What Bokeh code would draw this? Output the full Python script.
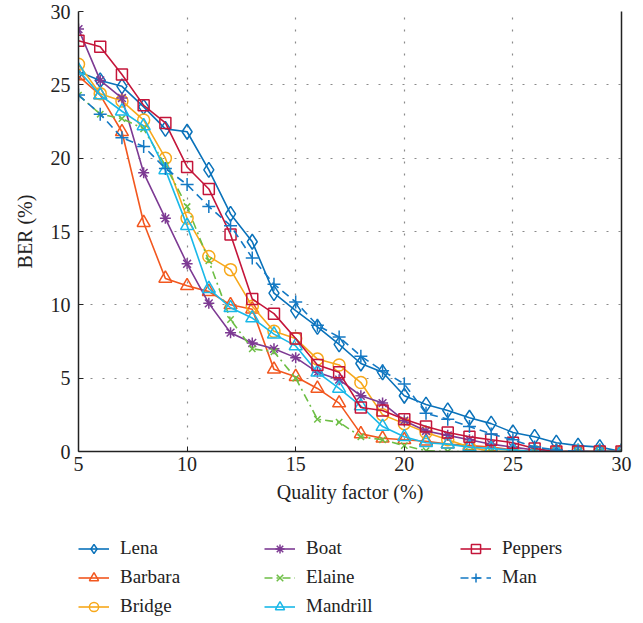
from bokeh.plotting import figure
from bokeh.models import (Range1d, FixedTicker, LinearAxis, Legend, LegendItem)
from bokeh.layouts import column
from bokeh.embed import file_html
from bokeh.resources import INLINE

quality = list(range(5, 31))

lena     = [25.9, 25.3, 24.9, 23.5, 22.0, 21.8, 19.2, 16.2, 14.3, 10.8, 9.6, 8.5, 7.3, 6.0, 5.4, 3.8, 3.2, 2.8, 2.3, 1.9, 1.3, 1.0, 0.6, 0.4, 0.3, 0.0]
barbara  = [25.6, 24.3, 21.8, 15.6, 11.8, 11.3, 10.9, 10.0, 9.7, 5.6, 5.1, 4.3, 3.3, 1.2, 0.9, 0.8, 0.7, 0.5, 0.4, 0.3, 0.1, 0.0, 0.0, 0.0, 0.0, 0.0]
bridge   = [26.4, 24.4, 23.9, 22.6, 20.0, 15.9, 13.3, 12.4, 9.9, 8.2, 7.7, 6.3, 5.9, 4.7, 2.5, 1.9, 1.3, 0.8, 0.3, 0.0, 0.0, 0.0, 0.0, 0.0, 0.0, 0.0]
boat     = [28.8, 25.3, 24.1, 19.0, 15.9, 12.8, 10.1, 8.1, 7.4, 7.0, 6.4, 5.4, 4.9, 3.8, 3.3, 2.1, 1.4, 1.1, 0.8, 0.5, 0.3, 0.1, 0.0, 0.0, 0.0, 0.0]
elaine   = [24.3, 23.0, 22.7, 22.0, 19.5, 16.7, 13.0, 9.0, 7.0, 6.8, 5.0, 2.2, 2.0, 1.0, 0.8, 0.4, 0.05, 0.0, 0.0, 0.0, 0.0, 0.0, 0.0, 0.0, 0.0, 0.0]
mandrill = [26.0, 24.3, 23.2, 22.2, 19.2, 15.4, 11.1, 9.8, 9.1, 8.0, 7.2, 5.4, 4.3, 3.1, 1.7, 1.0, 0.6, 0.5, 0.3, 0.2, 0.1, 0.0, 0.0, 0.0, 0.0, 0.0]
peppers  = [28.0, 27.6, 25.7, 23.6, 22.4, 19.4, 17.9, 14.8, 10.4, 9.4, 7.7, 5.9, 5.4, 3.0, 2.8, 2.2, 1.7, 1.3, 1.0, 0.8, 0.6, 0.2, 0.0, 0.0, 0.0, 0.0]
man      = [24.3, 23.0, 21.4, 20.8, 19.3, 18.2, 16.7, 15.4, 13.2, 11.4, 10.2, 8.6, 7.8, 6.5, 5.5, 4.6, 2.6, 2.2, 1.7, 1.2, 0.8, 0.3, 0.1, 0.0, 0.0, 0.0]

x_ticks = [5, 10, 15, 20, 25, 30]
y_ticks = [0, 5, 10, 15, 20, 25, 30]

FONT = "Liberation Serif"
INK = "#222222"

p = figure(width=643, height=520, output_backend="svg", toolbar_location=None,
           x_range=Range1d(5, 30), y_range=Range1d(0, 30),
           min_border_left=78, min_border_right=22, min_border_top=11,
           min_border_bottom=69)
p.outline_line_color = None
p.background_fill_color = "white"

for ax in (p.xaxis[0], p.yaxis[0]):
    ax.major_tick_in = 5
    ax.major_tick_out = 0
    ax.minor_tick_line_color = None
    ax.axis_line_color = INK
    ax.axis_line_width = 1.5
    ax.major_tick_line_color = INK
    ax.major_label_text_font = FONT
    ax.major_label_text_font_size = "20px"
    ax.major_label_text_color = INK
    ax.axis_label_text_font = FONT
    ax.axis_label_text_font_size = "20px"
    ax.axis_label_text_font_style = "normal"
    ax.axis_label_text_color = INK

p.xaxis[0].ticker = FixedTicker(ticks=x_ticks)
p.yaxis[0].ticker = FixedTicker(ticks=y_ticks)
p.xaxis[0].axis_label = "Quality factor (%)"
p.yaxis[0].axis_label = "BER (%)"
p.xaxis[0].major_label_standoff = 5
p.yaxis[0].major_label_standoff = 8
p.xaxis[0].axis_label_standoff = 7
p.yaxis[0].axis_label_standoff = 12

right_ax = LinearAxis(ticker=FixedTicker(ticks=[]), minor_tick_line_color=None,
                      axis_line_color=INK, axis_line_width=1.5)
p.add_layout(right_ax, "right")

for g in (p.xgrid[0], p.ygrid[0]):
    g.grid_line_color = "#8a8a8a"
    g.grid_line_dash = "2 10"
    g.grid_line_width = 1.2
p.xgrid[0].ticker = FixedTicker(ticks=x_ticks)
p.ygrid[0].ticker = FixedTicker(ticks=y_ticks)

series = [
    ("Lena", lena, "#0A72BA", "diamond", 15, "solid"),
    ("Barbara", barbara, "#F2571F", "triangle", 13, "solid"),
    ("Bridge", bridge, "#F7A81B", "circle", 12, "solid"),
    ("Boat", boat, "#7D3A93", "asterisk", 11, "solid"),
    ("Elaine", elaine, "#6DBE45", "x", 9, "8 4 2 4"),
    ("Mandrill", mandrill, "#1AB8E8", "triangle", 13, "solid"),
    ("Peppers", peppers, "#C4153A", "square", 11, "solid"),
    ("Man", man, "#1479C4", "cross", 13, "8 5"),
]

# legend panel: a second figure whose ranges hold no data, so only the legend shows
p2 = figure(width=643, height=103, output_backend="svg", toolbar_location=None,
            x_range=Range1d(1000, 1001), y_range=Range1d(1000, 1001),
            x_axis_type=None, y_axis_type=None,
            min_border_left=0, min_border_right=0, min_border_top=0, min_border_bottom=0)
p2.outline_line_color = None
p2.xgrid.visible = False
p2.ygrid.visible = False

items = {}
for name, vals, color, marker, size, dash in series:
    p.line(quality, vals, line_color=color, line_width=1.6, line_dash=dash)
    p.scatter(quality, vals, marker=marker, size=size, line_color=color,
              fill_color=None, line_width=1.5)
    ln2 = p2.line(quality, vals, line_color=color, line_width=1.6, line_dash=dash)
    sc2 = p2.scatter(quality, vals, marker=marker, size=size - 2, line_color=color,
                     fill_color=None, line_width=1.5)
    items[name] = LegendItem(label=name, renderers=[ln2, sc2])

ROW_H = 23
GAP = 6
TOP = 16.5

def make_legend(names, x):
    h = len(names) * ROW_H + (len(names) - 1) * GAP
    vy = 103 - TOP - h
    lg = Legend(items=[items[n] for n in names], location=(x, vy),
                orientation="vertical", padding=0, margin=0, spacing=GAP,
                glyph_width=31, glyph_height=ROW_H, label_height=ROW_H,
                label_standoff=11,
                label_text_font=FONT, label_text_font_size="19px",
                label_text_color=INK, border_line_color=None,
                background_fill_alpha=0)
    p2.add_layout(lg, "center")

make_legend(["Lena", "Barbara", "Bridge"], 0)
make_legend(["Boat", "Elaine", "Mandrill"], 186)
make_legend(["Peppers", "Man"], 382)

layout = column(p, p2, spacing=0)
open("out.html", "w").write(file_html(layout, INLINE))
